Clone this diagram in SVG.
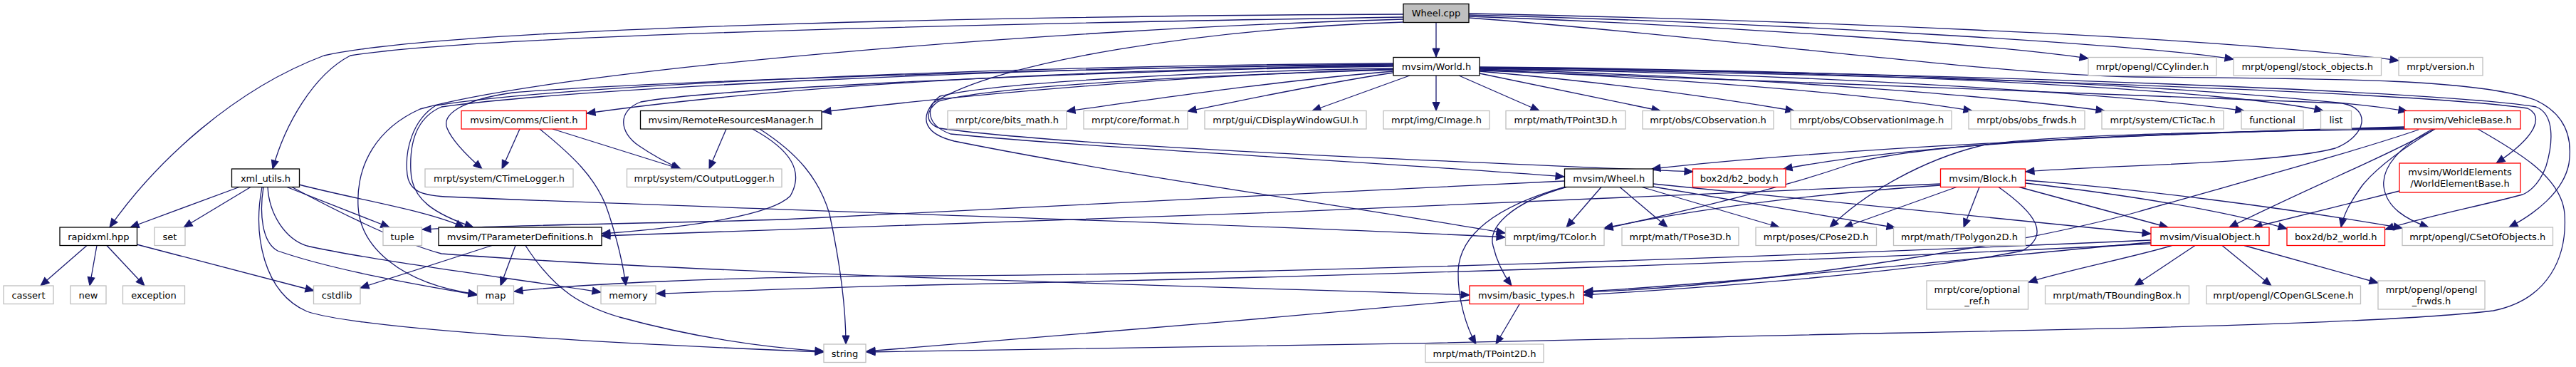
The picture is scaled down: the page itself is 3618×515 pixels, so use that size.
<svg xmlns="http://www.w3.org/2000/svg" width="3618" height="515" viewBox="0 0 3618 515">
<style>
.e{fill:none;stroke:#191970;stroke-width:1.3;marker-end:url(#ah)}
.n rect{fill:#fff;stroke-width:1.3}
.k rect{stroke:#000}
.g rect{stroke:#bfbfbf}
.r rect{stroke:#ff0000}
.f rect{fill:#bfbfbf;stroke:#000}
text{font-family:"DejaVu Sans","Liberation Sans",sans-serif;font-size:13px;text-anchor:middle;fill:#000}
</style>
<defs>
<marker id="ah" markerUnits="userSpaceOnUse" markerWidth="14" markerHeight="12" refX="12" refY="5" orient="auto" overflow="visible">
<path d="M0,0 L12,5 L0,10 z" fill="#191970" stroke="#191970" stroke-width="1"/>
</marker>
</defs>
<rect width="3618" height="515" fill="#fff"/>
<g id="edges">
<path class="e" d="M2017,32 L2017,80"/>
<path class="e" d="M1971,24 C1600,30 700,45 492,78 C440,105 400,175 383,237"/>
<path class="e" d="M1971,20 C1500,22 650,35 455,78 C330,125 220,225 154,319"/>
<path class="e" d="M1971,27 C1500,40 800,95 590,153 C530,180 500,230 503,290 C506,345 560,398 670,413"/>
<path class="e" d="M1971,31 C1700,40 1400,85 1310,145 C1292,168 1300,188 1340,198 C1600,250 1900,290 2114,327"/>
<path class="e" d="M2063,23 C2400,35 2800,62 2933,82"/>
<path class="e" d="M2063,21 C2500,32 3000,62 3137,83"/>
<path class="e" d="M2063,19 C2500,28 3100,50 3369,85"/>
<path class="e" d="M2063,25 C2400,50 2800,105 3000,108 C3300,110 3480,112 3560,140 C3600,158 3614,190 3608,230 C3600,270 3560,300 3524,319"/>
<path class="e" d="M1957,92 C1500,98 1100,120 824,159"/>
<path class="e" d="M1957,97 C1600,108 1300,140 1155,157"/>
<path class="e" d="M1957,100 C1800,113 1650,135 1498,156"/>
<path class="e" d="M1957,102 C1850,118 1750,140 1668,156"/>
<path class="e" d="M1980,106 L1843,155.5"/>
<path class="e" d="M2017,106 L2017,155.5"/>
<path class="e" d="M2049,106 L2162,155.5"/>
<path class="e" d="M2078,103 L2332,155.5"/>
<path class="e" d="M2078,100 C2250,115 2400,135 2520,155.5"/>
<path class="e" d="M2078,98 C2400,112 2650,135 2770,155.5"/>
<path class="e" d="M2078,97 C2500,110 2800,135 2956,155.5"/>
<path class="e" d="M2078,96 C2600,105 3000,135 3152,155.5"/>
<path class="e" d="M2078,95 C2700,100 3150,130 3263,155.5"/>
<path class="e" d="M2078,94 C2800,100 3250,135 3381,156"/>
<path class="e" d="M1957,91 C1500,95 900,115 720,130 C650,140 620,160 628,180 C636,200 660,222 677,237"/>
<path class="e" d="M1957,93 C1500,100 1000,125 900,143 C868,155 868,185 898,205 C920,220 940,230 956,237"/>
<path class="e" d="M1957,90 C1400,95 800,125 620,150 C585,165 575,200 577,240 C578,280 610,300 665,319"/>
<path class="e" d="M1957,89 C1400,92 790,120 612,148 C580,168 568,210 572,245 C575,268 592,274 625,276 C1000,292 1800,316 2114,333"/>
<path class="e" d="M1957,96 C1700,100 1400,115 1320,135 C1300,150 1300,175 1335,188 C1500,205 1900,225 2197,248"/>
<path class="e" d="M1957,98 C1700,105 1400,120 1318,142 C1300,155 1298,172 1320,180 C1500,205 2000,225 2378,241"/>
<path class="e" d="M2078,99 C2500,115 3100,135 3290,145 C3330,152 3325,190 3280,208 C3200,230 2950,232 2845,241"/>
<path class="e" d="M2078,96 C2700,105 3400,130 3550,152 C3572,162 3565,190 3506,229"/>
<path class="e" d="M2078,95 C2800,103 3450,130 3562,150 C3588,160 3586,200 3576,233 C3568,255 3555,268 3543,273 C3480,290 3400,305 3350,322"/>
<path class="e" d="M336,262.5 L183,319"/>
<path class="e" d="M352,262.5 L258,319"/>
<path class="e" d="M403,262.5 L547,319"/>
<path class="e" d="M420,259 C500,280 600,295 652,319"/>
<path class="e" d="M370,262.5 C364,300 368,340 390,352 C470,380 600,402 670,414"/>
<path class="e" d="M376,262.5 C378,300 400,335 431,345 C520,365 700,388 844,410"/>
<path class="e" d="M368,262.5 C355,330 370,410 431,437 C500,460 800,480 1157,494"/>
<path class="e" d="M410,262.5 C480,300 560,340 620,356 C1000,385 1700,402 2064,414"/>
<path class="e" d="M122,344.5 L57,401"/>
<path class="e" d="M136,344.5 L126,401"/>
<path class="e" d="M150,344.5 L203,401"/>
<path class="e" d="M192,343 L441,408"/>
<path class="e" d="M691,344.5 L506,404"/>
<path class="e" d="M724,344.5 L703,401"/>
<path class="e" d="M738,344.5 C780,410 820,430 870,445 C980,475 1080,488 1157,493"/>
<path class="e" d="M730,181 L705,237"/>
<path class="e" d="M776,181 L955,237"/>
<path class="e" d="M758,181 C800,215 840,250 855,300 C868,340 875,370 879,401"/>
<path class="e" d="M1020,181 L996,237"/>
<path class="e" d="M1057,181 C1110,210 1130,240 1110,275 C1080,305 950,320 845,328"/>
<path class="e" d="M1067,181 C1120,215 1150,250 1165,300 C1180,370 1188,430 1188,483"/>
<path class="e" d="M2200,262.5 C2120,285 2090,320 2097,345 C2103,370 2115,390 2123,401"/>
<path class="e" d="M2198,262 C2100,290 2050,330 2048,380 C2047,420 2060,460 2073,483"/>
<path class="e" d="M2249,262.5 L2200,319"/>
<path class="e" d="M2275,262.5 L2342,319"/>
<path class="e" d="M2306,262.5 L2499,319"/>
<path class="e" d="M2322,262 L2662,319.5"/>
<path class="e" d="M2322,258 L3021,328"/>
<path class="e" d="M2197,254 C1800,272 1300,300 1100,308 C900,314 700,316 593,322"/>
<path class="e" d="M2726,258 C2300,280 1300,318 845,331"/>
<path class="e" d="M2725,260 C2500,275 2350,300 2253,320"/>
<path class="e" d="M2748,262.5 L2590,319"/>
<path class="e" d="M2780,262.5 L2758,319"/>
<path class="e" d="M2807,262.5 C2860,300 2880,330 2840,352 C2700,380 2450,400 2224,414"/>
<path class="e" d="M2836,262.5 L3045,319"/>
<path class="e" d="M2845,257 C3000,275 3120,295 3212,321"/>
<path class="e" d="M2845,253 C3000,265 3200,290 3374,320"/>
<path class="e" d="M3377,178 C3100,185 2600,205 2320,237"/>
<path class="e" d="M3377,179 C3000,188 2700,200 2505,237"/>
<path class="e" d="M3380,181 C3100,185 2850,190 2780,205 C2700,225 2620,270 2570,319"/>
<path class="e" d="M3378,180 C3000,186 2700,200 2600,230 C2500,265 2350,300 2253,321"/>
<path class="e" d="M3397,182 C3300,215 3150,255 3000,298 C2850,340 2500,400 2224,410"/>
<path class="e" d="M3420,181 C3350,220 3250,260 3131,319"/>
<path class="e" d="M3420,181 C3380,205 3340,233 3318,260 C3300,285 3292,300 3288,319"/>
<path class="e" d="M3417,181 C3370,205 3345,235 3348,262 C3352,292 3380,308 3411,319"/>
<path class="e" d="M3480,181 C3540,215 3598,250 3602,300 C3606,360 3580,420 3502,436 C3300,460 2700,465 2400,473 C2000,483 1500,490 1217,494"/>
<path class="e" d="M3370,268 L3165,319"/>
<path class="e" d="M3083,344.5 L2998,401"/>
<path class="e" d="M3121,344.5 L3190,401"/>
<path class="e" d="M3152,344.5 L3340,397"/>
<path class="e" d="M3051,344.5 C3000,360 2900,380 2849,396"/>
<path class="e" d="M3021,340 C2800,360 2400,400 2225,409"/>
<path class="e" d="M3021,337 C2500,360 1800,385 1300,387 C1000,388 800,400 722,409"/>
<path class="e" d="M3021,342 C2500,370 1800,390 1300,400 C1100,405 1000,410 922,412"/>
<path class="e" d="M2064,421 C1800,445 1400,480 1217,493"/>
<path class="e" d="M2134,427 L2101,483"/>
</g>
<g id="n-wheelcpp" class="n f"><rect x="1971" y="5.5" width="92" height="26"/><text x="2017" y="23">Wheel.cpp</text></g>
<g id="n-world" class="n k"><rect x="1957" y="80.5" width="121" height="25.5"/><text x="2017.5" y="98">mvsim/World.h</text></g>
<g id="n-ccyl" class="n g"><rect x="2933" y="80.5" width="180" height="25.5"/><text x="3023" y="98">mrpt/opengl/CCylinder.h</text></g>
<g id="n-stock" class="n g"><rect x="3137" y="80.5" width="207.5" height="25.5"/><text x="3240.7" y="98">mrpt/opengl/stock_objects.h</text></g>
<g id="n-version" class="n g"><rect x="3369" y="80.5" width="118" height="25.5"/><text x="3428" y="98">mrpt/version.h</text></g>
<g id="n-client" class="n r"><rect x="648" y="155.5" width="175.5" height="25.5"/><text x="735.8" y="173">mvsim/Comms/Client.h</text></g>
<g id="n-rrm" class="n k"><rect x="899.5" y="155.5" width="254.5" height="25.5"/><text x="1026.7" y="173">mvsim/RemoteResourcesManager.h</text></g>
<g id="n-bits" class="n g"><rect x="1331" y="155.5" width="167" height="25.5"/><text x="1414.5" y="173">mrpt/core/bits_math.h</text></g>
<g id="n-format" class="n g"><rect x="1522" y="155.5" width="146" height="25.5"/><text x="1595" y="173">mrpt/core/format.h</text></g>
<g id="n-gui" class="n g"><rect x="1692" y="155.5" width="227" height="25.5"/><text x="1805.5" y="173">mrpt/gui/CDisplayWindowGUI.h</text></g>
<g id="n-cimage" class="n g"><rect x="1943" y="155.5" width="149" height="25.5"/><text x="2017.5" y="173">mrpt/img/CImage.h</text></g>
<g id="n-tpoint3d" class="n g"><rect x="2115" y="155.5" width="168" height="25.5"/><text x="2199" y="173">mrpt/math/TPoint3D.h</text></g>
<g id="n-cobs" class="n g"><rect x="2307" y="155.5" width="184" height="25.5"/><text x="2399" y="173">mrpt/obs/CObservation.h</text></g>
<g id="n-cobsimg" class="n g"><rect x="2515" y="155.5" width="226" height="25.5"/><text x="2628" y="173">mrpt/obs/CObservationImage.h</text></g>
<g id="n-obsfrwds" class="n g"><rect x="2765" y="155.5" width="163" height="25.5"/><text x="2846.5" y="173">mrpt/obs/obs_frwds.h</text></g>
<g id="n-tictac" class="n g"><rect x="2952" y="155.5" width="171" height="25.5"/><text x="3037.5" y="173">mrpt/system/CTicTac.h</text></g>
<g id="n-functional" class="n g"><rect x="3148" y="155.5" width="87" height="25.5"/><text x="3191.5" y="173">functional</text></g>
<g id="n-list" class="n g"><rect x="3259.5" y="155.5" width="43" height="25.5"/><text x="3281" y="173">list</text></g>
<g id="n-vehicle" class="n r"><rect x="3377" y="155.5" width="163" height="25.5"/><text x="3458.5" y="173">mvsim/VehicleBase.h</text></g>
<g id="n-xmlutils" class="n k"><rect x="325.5" y="237" width="95" height="25.5"/><text x="373" y="254.5">xml_utils.h</text></g>
<g id="n-ctimelog" class="n g"><rect x="597" y="237" width="208" height="25.5"/><text x="701" y="254.5">mrpt/system/CTimeLogger.h</text></g>
<g id="n-coutput" class="n g"><rect x="880.5" y="237" width="217.5" height="25.5"/><text x="989.2" y="254.5">mrpt/system/COutputLogger.h</text></g>
<g id="n-wheelh" class="n k"><rect x="2197.5" y="237" width="124.5" height="25.5"/><text x="2259.7" y="254.5">mvsim/Wheel.h</text></g>
<g id="n-b2body" class="n r"><rect x="2377.5" y="237" width="130.5" height="25.5"/><text x="2442.7" y="254.5">box2d/b2_body.h</text></g>
<g id="n-block" class="n r"><rect x="2725.5" y="237" width="119" height="25.5"/><text x="2785" y="254.5">mvsim/Block.h</text></g>
<g id="n-web" class="n r"><rect x="3370" y="229" width="170" height="41"/><text x="3455" y="245.5">mvsim/WorldElements</text><text x="3455" y="261.5">/WorldElementBase.h</text></g>
<g id="n-rapidxml" class="n k"><rect x="84" y="319" width="108.5" height="25.5"/><text x="138.3" y="336.5">rapidxml.hpp</text></g>
<g id="n-set" class="n g"><rect x="217" y="319" width="43" height="25.5"/><text x="238.5" y="336.5">set</text></g>
<g id="n-tuple" class="n g"><rect x="538" y="319" width="54.5" height="25.5"/><text x="565.2" y="336.5">tuple</text></g>
<g id="n-tparam" class="n k"><rect x="616" y="319" width="229" height="25.5"/><text x="730.5" y="336.5">mvsim/TParameterDefinitions.h</text></g>
<g id="n-tcolor" class="n g"><rect x="2114.5" y="319" width="138.5" height="25.5"/><text x="2183.7" y="336.5">mrpt/img/TColor.h</text></g>
<g id="n-tpose3d" class="n g"><rect x="2278" y="319" width="164" height="25.5"/><text x="2360" y="336.5">mrpt/math/TPose3D.h</text></g>
<g id="n-cpose2d" class="n g"><rect x="2466" y="319" width="169.5" height="25.5"/><text x="2550.7" y="336.5">mrpt/poses/CPose2D.h</text></g>
<g id="n-tpolygon" class="n g"><rect x="2659.5" y="319" width="185" height="25.5"/><text x="2752" y="336.5">mrpt/math/TPolygon2D.h</text></g>
<g id="n-visual" class="n r"><rect x="3021" y="319" width="166" height="25.5"/><text x="3104" y="336.5">mvsim/VisualObject.h</text></g>
<g id="n-b2world" class="n r"><rect x="3212" y="319" width="137.5" height="25.5"/><text x="3280.7" y="336.5">box2d/b2_world.h</text></g>
<g id="n-cset" class="n g"><rect x="3374" y="319" width="211.5" height="25.5"/><text x="3479.7" y="336.5">mrpt/opengl/CSetOfObjects.h</text></g>
<g id="n-cassert" class="n g"><rect x="5" y="401" width="70" height="25.5"/><text x="40" y="418.5">cassert</text></g>
<g id="n-new" class="n g"><rect x="99" y="401" width="50" height="25.5"/><text x="124" y="418.5">new</text></g>
<g id="n-exception" class="n g"><rect x="172.5" y="401" width="87" height="25.5"/><text x="216" y="418.5">exception</text></g>
<g id="n-cstdlib" class="n g"><rect x="440.5" y="401" width="65.5" height="25.5"/><text x="473.2" y="418.5">cstdlib</text></g>
<g id="n-map" class="n g"><rect x="670.5" y="401" width="51" height="25.5"/><text x="696" y="418.5">map</text></g>
<g id="n-memory" class="n g"><rect x="844" y="401" width="77" height="25.5"/><text x="882.5" y="418.5">memory</text></g>
<g id="n-basic" class="n r"><rect x="2064" y="401" width="160" height="25.5"/><text x="2144" y="418.5">mvsim/basic_types.h</text></g>
<g id="n-optref" class="n g"><rect x="2706" y="394" width="142.5" height="40"/><text x="2777" y="410.5">mrpt/core/optional</text><text x="2777" y="426.5">_ref.h</text></g>
<g id="n-tbbox" class="n g"><rect x="2872.5" y="401" width="202" height="25.5"/><text x="2973.5" y="418.5">mrpt/math/TBoundingBox.h</text></g>
<g id="n-glscene" class="n g"><rect x="3099" y="401" width="216.5" height="25.5"/><text x="3207" y="418.5">mrpt/opengl/COpenGLScene.h</text></g>
<g id="n-glfrwds" class="n g"><rect x="3340" y="394" width="150" height="40"/><text x="3415" y="410.5">mrpt/opengl/opengl</text><text x="3415" y="426.5">_frwds.h</text></g>
<g id="n-string" class="n g"><rect x="1157" y="483" width="59" height="25.5"/><text x="1186.5" y="500.5">string</text></g>
<g id="n-tpoint2d" class="n g"><rect x="2002" y="483" width="166" height="25.5"/><text x="2085" y="500.5">mrpt/math/TPoint2D.h</text></g>
</svg>
